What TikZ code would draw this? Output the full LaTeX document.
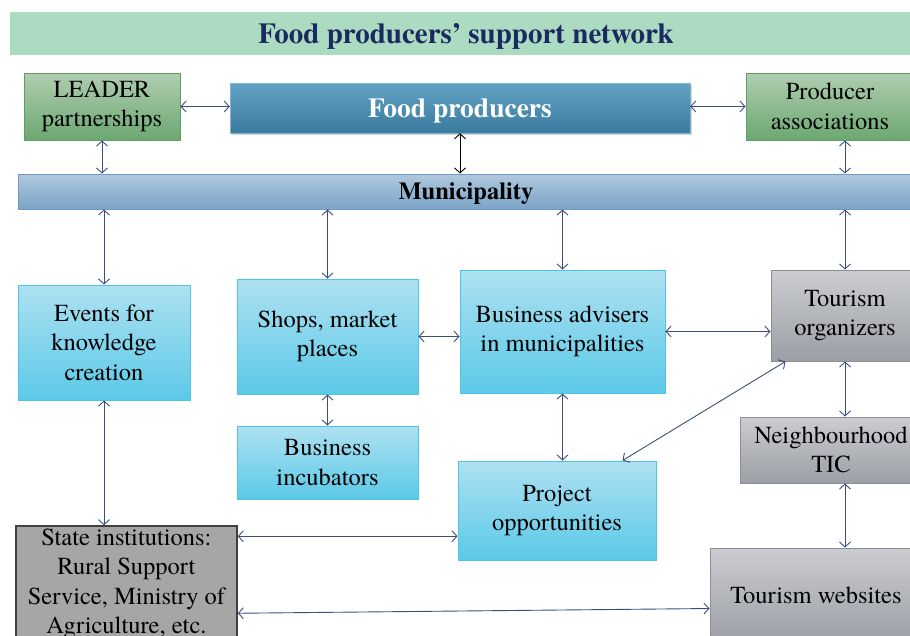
\documentclass[tikz,border=0pt]{standalone}
\usepackage{fontspec}
\setmainfont{texgyretermes}[Extension=.otf, UprightFont=*-regular,
  BoldFont=*-bold, ItalicFont=*-italic, BoldItalicFont=*-bolditalic]
\usetikzlibrary{arrows.meta}
\usetikzlibrary{shadows}

\definecolor{titleband}{HTML}{ABDBC0}
\definecolor{titleink}{HTML}{1A2960}
\definecolor{greentop}{HTML}{B0CDB0}
\definecolor{greenbot}{HTML}{6CA872}
\definecolor{greenedge}{HTML}{5E9E64}
\definecolor{foodtop}{HTML}{62A2C4}
\definecolor{foodbot}{HTML}{3A7A9C}
\definecolor{munitop}{HTML}{B0C8DD}
\definecolor{munibot}{HTML}{7CA4C8}
\definecolor{muniedge}{HTML}{6E9AC2}
\definecolor{cyantop}{HTML}{AEE1F1}
\definecolor{cyanbot}{HTML}{5BC9E8}
\definecolor{cyanedge}{HTML}{4FC4E7}
\definecolor{greytop}{HTML}{CBCDD1}
\definecolor{greybot}{HTML}{9B9EA4}
\definecolor{greyedge}{HTML}{8C8F95}
\definecolor{statefill}{HTML}{A6A6A6}
\definecolor{stateedge}{HTML}{404040}
\definecolor{linkblue}{HTML}{3C4F7C}

\tikzset{
  box/.style={rectangle, align=center, inner sep=2pt,
    font=\fontsize{24.5}{29.5}\selectfont},
  greenbox/.style={box, draw=greenedge, line width=1pt,
    top color=greentop, bottom color=greenbot},
  cyanbox/.style={box, draw=cyanedge, line width=1pt,
    top color=cyantop, bottom color=cyanbot},
  greybox/.style={box, draw=greyedge, line width=1pt,
    top color=greytop, bottom color=greybot},
  link/.style={draw=linkblue, line width=0.9pt, <->},
}

\begin{document}
\begin{tikzpicture}[x=1pt, y=-1pt, >={Straight Barb[length=5pt,width=11pt]}]
    \useasboundingbox (0,0) rectangle (910,635);
    \clip (0,0) rectangle (910,635);

    % heading band
    \node[rectangle, fill=titleband, minimum width=912pt, minimum height=43pt,
      text depth=0pt, text=titleink, font=\fontsize{29}{34}\selectfont\bfseries]
      (title) at (466,33.5) {Food producers’ support network};

    % top row
    \node[greenbox, minimum width=156pt, minimum height=67pt]
      (leader) at (102,106.5) {LEADER\\partnerships};
    \node[box, draw=foodtop!80!white, top color=foodtop, bottom color=foodbot,
      minimum width=460pt, minimum height=50pt, drop shadow={opacity=0.35},
      text depth=0pt, text=white, font=\fontsize{27.5}{32}\selectfont\bfseries]
      (food) at (460,108) {Food producers};
    \node[greenbox, minimum width=168pt, minimum height=67pt]
      (producer) at (830,106.5) {Producer\\associations};

    \node[box, draw=muniedge, line width=1pt, top color=munitop, bottom color=munibot,
      minimum width=896pt, minimum height=35pt, text depth=0pt,
      font=\fontsize{24.5}{29.5}\selectfont\bfseries]
      (muni) at (466,191.5) {Municipality};

    % municipal services
    \node[cyanbox, minimum width=172pt, minimum height=115pt]
      (events) at (104,342.5) {Events for\\knowledge\\creation};
    \node[cyanbox, minimum width=181pt, minimum height=115pt]
      (shops) at (327.5,336.5) {Shops, market\\places};
    \node[cyanbox, minimum width=181pt, minimum height=73pt]
      (incub) at (327.5,462.5) {Business\\incubators};
    \node[cyanbox, minimum width=205pt, minimum height=123pt]
      (advisers) at (562.5,331.5) {Business advisers\\in municipalities};
    \node[cyanbox, minimum width=198pt, minimum height=99pt]
      (project) at (557,510.5) {Project\\opportunities};

    % tourism side
    \node[greybox, minimum width=148pt, minimum height=91pt]
      (tourorg) at (845,315.5) {Tourism\\organizers};
    \node[greybox, minimum width=182pt, minimum height=66pt]
      (tic) at (831,450) {Neighbourhood\\TIC};
    \node[greybox, minimum width=212pt, minimum height=94pt, text depth=0pt]
      (websites) at (816,595) {Tourism websites};

    \node[box, fill=statefill, draw=stateedge, line width=1.5pt,
      minimum width=221pt, minimum height=116pt]
      (state) at (126.5,584) {State institutions:\\Rural Support\\Service, Ministry of\\Agriculture, etc.};

    % links
    \draw[link] (leader.east) -- (leader.east -| food.west);
    \draw[link] (producer.west -| food.east) -- (producer.west);
    \draw[link] (leader.south) -- (leader.south |- muni.north);
    \draw[<->, line width=0.9pt] (food.south) -- (food.south |- muni.north);
    \draw[link] (tourorg.north |- producer.south) -- (tourorg.north |- muni.north);

    \draw[link] (events.north |- muni.south) -- (events.north);
    \draw[link] (shops.north |- muni.south) -- (shops.north);
    \draw[link] (advisers.north |- muni.south) -- (advisers.north);
    \draw[link] (tourorg.north |- muni.south) -- (tourorg.north);

    \draw[link] (shops.east) -- (shops.east -| advisers.west);
    \draw[link] (advisers.east) -- (advisers.east -| tourorg.west);
    \draw[link] (shops.south) -- (incub.north);
    \draw[link] (advisers.south) -- (advisers.south |- project.north);
    \draw[link] ([xshift=15pt]tourorg.south west) -- ([xshift=-34pt]project.north east);
    \draw[link] (tourorg.south) -- (tourorg.south |- tic.north);
    \draw[link] (tourorg.south |- tic.south) -- (tourorg.south |- websites.north);

    \draw[link] (events.south) -- (events.south |- state.north);
    \draw[link] ([yshift=-11pt]state.north east) -- ([yshift=-11pt]state.north east -| project.west);
    \draw[link] ([yshift=-88pt]state.north east) -- ([yshift=-61pt]websites.north west);
\end{tikzpicture}
\end{document}
